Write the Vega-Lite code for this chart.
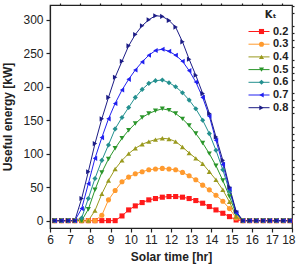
{
  "$schema": "https://vega.github.io/schema/vega-lite/v6.json",
  "autosize": "none",
  "width": 242,
  "height": 223,
  "padding": {"left": 50, "top": 5, "right": 4, "bottom": 37},
  "background": "white",
  "data": {"values": [
    {"t":6.23,"k":"0.2","e":0},{"t":6.57,"k":"0.2","e":0},{"t":6.9,"k":"0.2","e":0},{"t":7.23,"k":"0.2","e":0},{"t":7.57,"k":"0.2","e":0},{"t":7.9,"k":"0.2","e":0},{"t":8.23,"k":"0.2","e":0},{"t":8.57,"k":"0.2","e":0},{"t":8.9,"k":"0.2","e":0},{"t":9.23,"k":"0.2","e":0},{"t":9.57,"k":"0.2","e":7},{"t":9.9,"k":"0.2","e":16},{"t":10.23,"k":"0.2","e":22},{"t":10.57,"k":"0.2","e":27},{"t":10.9,"k":"0.2","e":31},{"t":11.23,"k":"0.2","e":33},{"t":11.57,"k":"0.2","e":35},{"t":11.9,"k":"0.2","e":36},{"t":12.23,"k":"0.2","e":36},{"t":12.57,"k":"0.2","e":35},{"t":12.9,"k":"0.2","e":33},{"t":13.23,"k":"0.2","e":30},{"t":13.57,"k":"0.2","e":26},{"t":13.9,"k":"0.2","e":21},{"t":14.23,"k":"0.2","e":16},{"t":14.57,"k":"0.2","e":11},{"t":14.9,"k":"0.2","e":6},{"t":15.23,"k":"0.2","e":1},{"t":15.57,"k":"0.2","e":0},{"t":15.9,"k":"0.2","e":0},{"t":16.23,"k":"0.2","e":0},{"t":16.57,"k":"0.2","e":0},{"t":16.9,"k":"0.2","e":0},{"t":17.23,"k":"0.2","e":0},{"t":17.57,"k":"0.2","e":0},{"t":17.9,"k":"0.2","e":0},
    {"t":6.23,"k":"0.3","e":0},{"t":6.57,"k":"0.3","e":0},{"t":6.9,"k":"0.3","e":0},{"t":7.23,"k":"0.3","e":0},{"t":7.57,"k":"0.3","e":0},{"t":7.9,"k":"0.3","e":0},{"t":8.23,"k":"0.3","e":0},{"t":8.57,"k":"0.3","e":8},{"t":8.9,"k":"0.3","e":31},{"t":9.23,"k":"0.3","e":45},{"t":9.57,"k":"0.3","e":58},{"t":9.9,"k":"0.3","e":65},{"t":10.23,"k":"0.3","e":70},{"t":10.57,"k":"0.3","e":73},{"t":10.9,"k":"0.3","e":76},{"t":11.23,"k":"0.3","e":77},{"t":11.57,"k":"0.3","e":78},{"t":11.9,"k":"0.3","e":77},{"t":12.23,"k":"0.3","e":76},{"t":12.57,"k":"0.3","e":72},{"t":12.9,"k":"0.3","e":67},{"t":13.23,"k":"0.3","e":61},{"t":13.57,"k":"0.3","e":53},{"t":13.9,"k":"0.3","e":46},{"t":14.23,"k":"0.3","e":38},{"t":14.57,"k":"0.3","e":29},{"t":14.9,"k":"0.3","e":18},{"t":15.23,"k":"0.3","e":4},{"t":15.57,"k":"0.3","e":0},{"t":15.9,"k":"0.3","e":0},{"t":16.23,"k":"0.3","e":0},{"t":16.57,"k":"0.3","e":0},{"t":16.9,"k":"0.3","e":0},{"t":17.23,"k":"0.3","e":0},{"t":17.57,"k":"0.3","e":0},{"t":17.9,"k":"0.3","e":0},
    {"t":6.23,"k":"0.4","e":0},{"t":6.57,"k":"0.4","e":0},{"t":6.9,"k":"0.4","e":0},{"t":7.23,"k":"0.4","e":0},{"t":7.57,"k":"0.4","e":0},{"t":7.9,"k":"0.4","e":0},{"t":8.23,"k":"0.4","e":15},{"t":8.57,"k":"0.4","e":40},{"t":8.9,"k":"0.4","e":60},{"t":9.23,"k":"0.4","e":77},{"t":9.57,"k":"0.4","e":90},{"t":9.9,"k":"0.4","e":100},{"t":10.23,"k":"0.4","e":108},{"t":10.57,"k":"0.4","e":114},{"t":10.9,"k":"0.4","e":118},{"t":11.23,"k":"0.4","e":121},{"t":11.57,"k":"0.4","e":123},{"t":11.9,"k":"0.4","e":122},{"t":12.23,"k":"0.4","e":118},{"t":12.57,"k":"0.4","e":110},{"t":12.9,"k":"0.4","e":101},{"t":13.23,"k":"0.4","e":93},{"t":13.57,"k":"0.4","e":85},{"t":13.9,"k":"0.4","e":73},{"t":14.23,"k":"0.4","e":61},{"t":14.57,"k":"0.4","e":46},{"t":14.9,"k":"0.4","e":28},{"t":15.23,"k":"0.4","e":6},{"t":15.57,"k":"0.4","e":0},{"t":15.9,"k":"0.4","e":0},{"t":16.23,"k":"0.4","e":0},{"t":16.57,"k":"0.4","e":0},{"t":16.9,"k":"0.4","e":0},{"t":17.23,"k":"0.4","e":0},{"t":17.57,"k":"0.4","e":0},{"t":17.9,"k":"0.4","e":0},
    {"t":6.23,"k":"0.5","e":0},{"t":6.57,"k":"0.5","e":0},{"t":6.9,"k":"0.5","e":0},{"t":7.23,"k":"0.5","e":0},{"t":7.57,"k":"0.5","e":0},{"t":7.9,"k":"0.5","e":17},{"t":8.23,"k":"0.5","e":46},{"t":8.57,"k":"0.5","e":72},{"t":8.9,"k":"0.5","e":92},{"t":9.23,"k":"0.5","e":108},{"t":9.57,"k":"0.5","e":123},{"t":9.9,"k":"0.5","e":135},{"t":10.23,"k":"0.5","e":145},{"t":10.57,"k":"0.5","e":154},{"t":10.9,"k":"0.5","e":160},{"t":11.23,"k":"0.5","e":164},{"t":11.57,"k":"0.5","e":167},{"t":11.9,"k":"0.5","e":165},{"t":12.23,"k":"0.5","e":160},{"t":12.57,"k":"0.5","e":152},{"t":12.9,"k":"0.5","e":142},{"t":13.23,"k":"0.5","e":130},{"t":13.57,"k":"0.5","e":116},{"t":13.9,"k":"0.5","e":100},{"t":14.23,"k":"0.5","e":82},{"t":14.57,"k":"0.5","e":60},{"t":14.9,"k":"0.5","e":36},{"t":15.23,"k":"0.5","e":10},{"t":15.57,"k":"0.5","e":0},{"t":15.9,"k":"0.5","e":0},{"t":16.23,"k":"0.5","e":0},{"t":16.57,"k":"0.5","e":0},{"t":16.9,"k":"0.5","e":0},{"t":17.23,"k":"0.5","e":0},{"t":17.57,"k":"0.5","e":0},{"t":17.9,"k":"0.5","e":0},
    {"t":6.23,"k":"0.6","e":0},{"t":6.57,"k":"0.6","e":0},{"t":6.9,"k":"0.6","e":0},{"t":7.23,"k":"0.6","e":0},{"t":7.57,"k":"0.6","e":4},{"t":7.9,"k":"0.6","e":33},{"t":8.23,"k":"0.6","e":63},{"t":8.57,"k":"0.6","e":90},{"t":8.9,"k":"0.6","e":113},{"t":9.23,"k":"0.6","e":137},{"t":9.57,"k":"0.6","e":154},{"t":9.9,"k":"0.6","e":169},{"t":10.23,"k":"0.6","e":184},{"t":10.57,"k":"0.6","e":196},{"t":10.9,"k":"0.6","e":205},{"t":11.23,"k":"0.6","e":209},{"t":11.57,"k":"0.6","e":210},{"t":11.9,"k":"0.6","e":206},{"t":12.23,"k":"0.6","e":200},{"t":12.57,"k":"0.6","e":191},{"t":12.9,"k":"0.6","e":180},{"t":13.23,"k":"0.6","e":167},{"t":13.57,"k":"0.6","e":150},{"t":13.9,"k":"0.6","e":130},{"t":14.23,"k":"0.6","e":105},{"t":14.57,"k":"0.6","e":76},{"t":14.9,"k":"0.6","e":44},{"t":15.23,"k":"0.6","e":12},{"t":15.57,"k":"0.6","e":0},{"t":15.9,"k":"0.6","e":0},{"t":16.23,"k":"0.6","e":0},{"t":16.57,"k":"0.6","e":0},{"t":16.9,"k":"0.6","e":0},{"t":17.23,"k":"0.6","e":0},{"t":17.57,"k":"0.6","e":0},{"t":17.9,"k":"0.6","e":0},
    {"t":6.23,"k":"0.7","e":0},{"t":6.57,"k":"0.7","e":0},{"t":6.9,"k":"0.7","e":0},{"t":7.23,"k":"0.7","e":0},{"t":7.57,"k":"0.7","e":18},{"t":7.9,"k":"0.7","e":55},{"t":8.23,"k":"0.7","e":93},{"t":8.57,"k":"0.7","e":124},{"t":8.9,"k":"0.7","e":152},{"t":9.23,"k":"0.7","e":175},{"t":9.57,"k":"0.7","e":195},{"t":9.9,"k":"0.7","e":211},{"t":10.23,"k":"0.7","e":225},{"t":10.57,"k":"0.7","e":237},{"t":10.9,"k":"0.7","e":247},{"t":11.23,"k":"0.7","e":254},{"t":11.57,"k":"0.7","e":256},{"t":11.9,"k":"0.7","e":253},{"t":12.23,"k":"0.7","e":247},{"t":12.57,"k":"0.7","e":238},{"t":12.9,"k":"0.7","e":224},{"t":13.23,"k":"0.7","e":207},{"t":13.57,"k":"0.7","e":184},{"t":13.9,"k":"0.7","e":156},{"t":14.23,"k":"0.7","e":120},{"t":14.57,"k":"0.7","e":84},{"t":14.9,"k":"0.7","e":47},{"t":15.23,"k":"0.7","e":12},{"t":15.57,"k":"0.7","e":0},{"t":15.9,"k":"0.7","e":0},{"t":16.23,"k":"0.7","e":0},{"t":16.57,"k":"0.7","e":0},{"t":16.9,"k":"0.7","e":0},{"t":17.23,"k":"0.7","e":0},{"t":17.57,"k":"0.7","e":0},{"t":17.9,"k":"0.7","e":0},
    {"t":6.23,"k":"0.8","e":0},{"t":6.57,"k":"0.8","e":0},{"t":6.9,"k":"0.8","e":0},{"t":7.23,"k":"0.8","e":0},{"t":7.57,"k":"0.8","e":33},{"t":7.9,"k":"0.8","e":73},{"t":8.23,"k":"0.8","e":115},{"t":8.57,"k":"0.8","e":152},{"t":8.9,"k":"0.8","e":184},{"t":9.23,"k":"0.8","e":214},{"t":9.57,"k":"0.8","e":238},{"t":9.9,"k":"0.8","e":261},{"t":10.23,"k":"0.8","e":278},{"t":10.57,"k":"0.8","e":291},{"t":10.9,"k":"0.8","e":300},{"t":11.23,"k":"0.8","e":306},{"t":11.57,"k":"0.8","e":305},{"t":11.9,"k":"0.8","e":299},{"t":12.23,"k":"0.8","e":289},{"t":12.57,"k":"0.8","e":267},{"t":12.9,"k":"0.8","e":241},{"t":13.23,"k":"0.8","e":217},{"t":13.57,"k":"0.8","e":190},{"t":13.9,"k":"0.8","e":160},{"t":14.23,"k":"0.8","e":125},{"t":14.57,"k":"0.8","e":90},{"t":14.9,"k":"0.8","e":50},{"t":15.23,"k":"0.8","e":14},{"t":15.57,"k":"0.8","e":0},{"t":15.9,"k":"0.8","e":0},{"t":16.23,"k":"0.8","e":0},{"t":16.57,"k":"0.8","e":0},{"t":16.9,"k":"0.8","e":0},{"t":17.23,"k":"0.8","e":0},{"t":17.57,"k":"0.8","e":0},{"t":17.9,"k":"0.8","e":0}
  ]},
  "layer": [
    {
      "mark": {"type": "line", "strokeWidth": 1},
      "encoding": {
        "x": {"field": "t", "type": "quantitative",
          "scale": {"domain": [6, 18], "nice": false, "zero": false},
          "axis": {"title": "Solar time [hr]", "values": [6,7,8,9,10,11,12,13,14,15,16,17,18],
            "format": "d", "labelFontSize": 12, "tickSize": 4, "labelPadding": 2,
            "labelAlign": {"condition": {"test": "datum.value === 18", "value": "right"}, "value": "center"},
            "labelOffset": {"condition": {"test": "datum.value === 18", "value": 3}, "value": 0},
            "titleFontSize": 12, "titleFontWeight": "bold", "titlePadding": 6, "labelFlush": false}},
        "y": {"field": "e", "type": "quantitative",
          "scale": {"domain": [-11, 322], "nice": false, "zero": false},
          "axis": {"title": "Useful energy [kW]", "values": [0,50,100,150,200,250,300],
            "labelFontSize": 12, "tickSize": 4, "labelPadding": 3,
            "titleFontSize": 12, "titleFontWeight": "bold", "titlePadding": 8}},
        "color": {"field": "k", "type": "nominal",
          "scale": {"domain": ["0.2", "0.3", "0.4", "0.5", "0.6", "0.7", "0.8"],
                    "range": ["#ff1a1a", "#ff9a2e", "#9a9a1e", "#2a962a", "#23908f", "#2020f0", "#1c1c86"]},
          "legend": {"title": "Kₜ", "orient": "none", "legendX": 203.5, "legendY": 5,
            "symbolType": "M-2.1,0H2.1", "symbolSize": 100, "symbolStrokeWidth": 1,
            "labelOffset": 8.5}}
      }
    },
    {
      "mark": {"type": "point", "filled": true, "size": 26, "opacity": 1},
      "encoding": {
        "x": {"field": "t", "type": "quantitative",
          "axis": {"title": null, "labels": false, "domain": false, "tickSize": 2,
            "values": [6.5,7.5,8.5,9.5,10.5,11.5,12.5,13.5,14.5,15.5,16.5,17.5]}},
        "y": {"field": "e", "type": "quantitative",
          "axis": {"title": null, "labels": false, "domain": false, "tickSize": 2,
            "values": [10,20,30,40,60,70,80,90,110,120,130,140,160,170,180,190,210,220,230,240,260,270,280,290,310,320]}},
        "color": {"field": "k", "type": "nominal",
          "legend": {"title": " ", "orient": "none", "legendX": 206, "legendY": 5,
            "labelExpr": "''", "symbolSize": 26}},
        "shape": {"field": "k", "type": "nominal",
          "scale": {"domain": ["0.2", "0.3", "0.4", "0.5", "0.6", "0.7", "0.8"],
                    "range": ["square", "circle", "triangle-up", "triangle-down", "diamond", "triangle-left", "triangle-right"]},
          "legend": {"title": " ", "orient": "none", "legendX": 206, "legendY": 5,
            "labelExpr": "''", "symbolSize": 26}}
      }
    }
  ],
  "resolve": {"axis": {"x": "independent", "y": "independent"}, "legend": {"color": "independent", "shape": "independent"}},
  "config": {
    "view": {"stroke": "#222", "strokeWidth": 1.2},
    "font": "Liberation Sans",
    "axis": {
      "domainColor": "#222", "domainWidth": 1.2,
      "tickColor": "#222", "tickWidth": 1.2,
      "labelColor": "#222", "titleColor": "#222",
      "grid": false
    },
    "legend": {
      "padding": 0,
      "titleFont": "DejaVu Sans", "titleFontSize": 10, "titleFontWeight": "bold",
      "titleAnchor": "middle", "titlePadding": 6, "titleColor": "#222",
      "labelFontSize": 11, "labelFontWeight": "bold", "labelColor": "#222",
      "rowPadding": 0.7
    }
  }
}
